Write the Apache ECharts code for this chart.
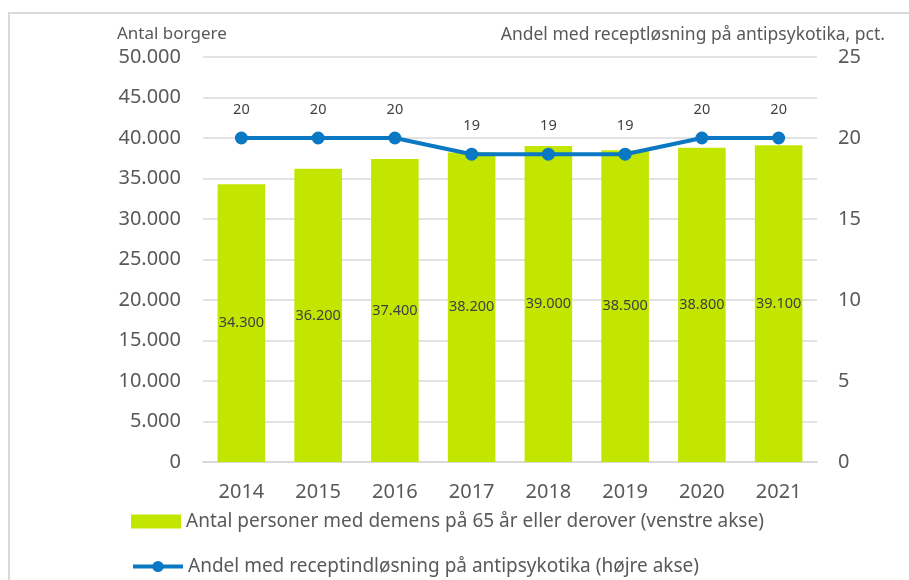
<!DOCTYPE html>
<html>
<head>
<meta charset="utf-8">
<script src="https://cdn.jsdelivr.net/npm/echarts@6/dist/echarts.min.js"></script>
<style>
  html, body { margin: 0; padding: 0; background: #fff; }
  #frame { position: absolute; left: 8px; top: 12px; width: 901px; height: 568px;
           border-top: 2px solid #d9d9d9; border-left: 2px solid #d9d9d9; box-sizing: border-box; }
  #chart { position: absolute; left: 0; top: 0; width: 909px; height: 580px; }
</style>
</head>
<body>
<div id="frame"></div>
<div id="chart"></div>
<script>
  const years = ['2014', '2015', '2016', '2017', '2018', '2019', '2020', '2021']
  const borgere = [34300, 36200, 37400, 38200, 39000, 38500, 38800, 39100]
  const andel = [20, 20, 20, 19, 19, 19, 20, 20]
  const barName = 'Antal personer med demens på 65 år eller derover (venstre akse)'
  const lineName = 'Andel med receptindløsning på antipsykotika (højre akse)'

  const font = 'Noto Sans'
  const grey = '#595959'
  const fmt = v => String(v).replace(/\B(?=(\d{3})+(?!\d))/g, '.')

  // one legend per row so they stack like the original
  function legendRow (name, top, extra) {
    return Object.assign({
      left: 126, top: top,
      itemWidth: 50, itemHeight: 14,
      textStyle: { fontSize: 19, color: grey, fontFamily: font },
      data: [name]
    }, extra || {})
  }

  let chart = echarts.init(document.getElementById('chart'))
  chart.setOption({
    animation: false,
    textStyle: { fontFamily: font, color: grey },
    grid: { left: 203, right: 92, top: 57, bottom: 118 },
    graphic: [
      { type: 'text', left: 117, top: 26,
        style: { text: 'Antal borgere', font: '17px ' + font, fill: grey } },
      { type: 'text', right: 24, top: 26,
        style: { text: 'Andel med receptløsning på antipsykotika, pct.', font: '17.5px ' + font, fill: grey } }
    ],
    legend: [
      legendRow({ name: barName, icon: 'rect' }, 507),
      legendRow({ name: lineName, lineStyle: { width: 4 } }, 552)
    ],
    xAxis: {
      type: 'category', data: years,
      axisLine: { lineStyle: { color: '#d9d9d9', width: 2 } },
      axisTick: { show: false },
      axisLabel: { fontSize: 20, color: grey, margin: 20 }
    },
    yAxis: [{
      type: 'value', min: 0, max: 50000, interval: 5000,
      axisLine: { show: false }, axisTick: { show: false },
      splitLine: { lineStyle: { color: '#d9d9d9', width: 1.5 } },
      axisLabel: { fontSize: 20, color: grey, margin: 22, formatter: fmt }
    }, {
      type: 'value', min: 0, max: 25, interval: 5,
      axisLine: { show: false }, axisTick: { show: false },
      splitLine: { show: false },
      axisLabel: { fontSize: 20, color: grey, margin: 21 }
    }],
    series: [{
      name: barName, type: 'bar', data: borgere, barWidth: '62%',
      itemStyle: { color: '#c3e600' },
      label: { show: true, position: 'inside', fontSize: 14.5, color: '#404040', formatter: p => fmt(p.value) }
    }, {
      name: lineName, type: 'line', yAxisIndex: 1, data: andel,
      symbol: 'circle', symbolSize: 13,
      lineStyle: { color: '#0a78c2', width: 4 },
      itemStyle: { color: '#0a78c2' },
      label: { show: true, position: 'top', distance: 14, fontSize: 14.5, color: '#404040' }
    }]
  })
</script>
</body>
</html>
